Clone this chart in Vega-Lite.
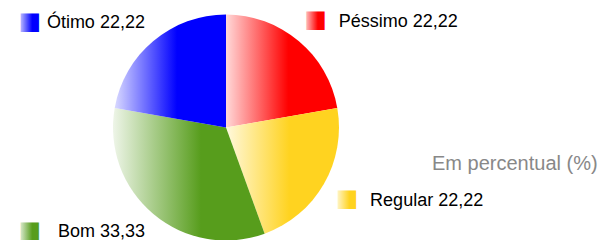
{
  "$schema": "https://vega.github.io/schema/vega-lite/v6.json",
  "autosize": "none",
  "padding": {"left": 0, "top": 15, "right": 153, "bottom": 0},
  "width": 452,
  "height": 225,
  "background": "white",
  "config": {"view": {"stroke": null}},
  "title": {
    "text": "Em percentual (%)",
    "orient": "top",
    "anchor": "start",
    "frame": "group",
    "offset": 0,
    "dx": 432,
    "dy": 182,
    "baseline": "alphabetic",
    "font": "Liberation Sans",
    "fontSize": 20,
    "fontWeight": "normal",
    "color": "#888888"
  },
  "data": {
    "values": [
      {"categoria": "Péssimo", "valor": 22.22, "ordem": 1, "rotulo": "Péssimo 22,22"},
      {"categoria": "Regular", "valor": 22.22, "ordem": 2, "rotulo": "Regular 22,22"},
      {"categoria": "Bom", "valor": 33.33, "ordem": 3, "rotulo": "Bom 33,33"},
      {"categoria": "Ótimo", "valor": 22.22, "ordem": 4, "rotulo": "Ótimo 22,22"}
    ]
  },
  "encoding": {
    "theta": {"field": "valor", "type": "quantitative", "stack": true},
    "order": {"field": "ordem", "type": "quantitative"}
  },
  "layer": [
    {
      "mark": {"type": "arc", "outerRadius": 113},
      "encoding": {
        "fill": {
          "condition": [
            {"test": "datum.categoria === 'Péssimo'", "value": {"gradient": "linear", "x1": 0, "y1": 0, "x2": 1, "y2": 0, "stops": [{"offset": 0, "color": "#FFD9D9"}, {"offset": 0.56, "color": "#FF0000"}, {"offset": 1, "color": "#FF0000"}]}},
            {"test": "datum.categoria === 'Regular'", "value": {"gradient": "linear", "x1": 0, "y1": 0, "x2": 1, "y2": 0, "stops": [{"offset": 0, "color": "#FFF9DE"}, {"offset": 0.56, "color": "#FFD320"}, {"offset": 1, "color": "#FFD320"}]}},
            {"test": "datum.categoria === 'Ótimo'", "value": {"gradient": "linear", "x1": 0, "y1": 0, "x2": 1, "y2": 0, "stops": [{"offset": 0, "color": "#D9D9FF"}, {"offset": 0.56, "color": "#0000FF"}, {"offset": 1, "color": "#0000FF"}]}}
          ],
          "value": {"gradient": "linear", "x1": 0, "y1": 0, "x2": 1, "y2": 0, "stops": [{"offset": 0, "color": "#EEF5E8"}, {"offset": 0.58, "color": "#579D1C"}, {"offset": 1, "color": "#579D1C"}]}
        }
      }
    },
    {
      "mark": {"type": "text", "radius": 141, "align": "left", "baseline": "alphabetic", "dx": 22, "dy": 8, "font": "Liberation Sans", "fontSize": 18, "fill": "#000000"},
      "encoding": {
        "text": {"condition": {"test": "datum.categoria === 'Péssimo' || datum.categoria === 'Regular'", "field": "rotulo"}, "value": ""}
      }
    },
    {
      "mark": {"type": "text", "radius": 137, "align": "right", "baseline": "alphabetic", "dx": 7, "dy": 5, "font": "Liberation Sans", "fontSize": 18, "fill": "#000000"},
      "encoding": {
        "text": {"condition": {"test": "datum.categoria === 'Bom' || datum.categoria === 'Ótimo'", "field": "rotulo"}, "value": ""}
      }
    },
    {
      "mark": {"type": "text", "radius": 141, "align": "center", "baseline": "middle", "dx": -1, "dy": 1, "font": "DejaVu Sans", "fontSize": 24},
      "encoding": {
        "text": {"condition": {"test": "datum.categoria === 'Péssimo' || datum.categoria === 'Regular'", "value": "■"}, "value": ""},
        "fill": {
          "condition": [
            {"test": "datum.categoria === 'Péssimo'", "value": {"gradient": "linear", "x1": 0, "y1": 0, "x2": 1, "y2": 0, "stops": [{"offset": 0, "color": "#FFD9D9"}, {"offset": 0.6, "color": "#FF0000"}, {"offset": 1, "color": "#FF0000"}]}}
          ],
          "value": {"gradient": "linear", "x1": 0, "y1": 0, "x2": 1, "y2": 0, "stops": [{"offset": 0, "color": "#FFF9DE"}, {"offset": 0.6, "color": "#FFD320"}, {"offset": 1, "color": "#FFD320"}]}
        }
      }
    },
    {
      "mark": {"type": "text", "radius": 137, "align": "center", "baseline": "middle", "dx": -108, "dy": -1, "font": "DejaVu Sans", "fontSize": 24},
      "encoding": {
        "text": {"condition": {"test": "datum.categoria === 'Bom' || datum.categoria === 'Ótimo'", "value": "■"}, "value": ""},
        "fill": {
          "condition": [
            {"test": "datum.categoria === 'Ótimo'", "value": {"gradient": "linear", "x1": 0, "y1": 0, "x2": 1, "y2": 0, "stops": [{"offset": 0, "color": "#D9D9FF"}, {"offset": 0.6, "color": "#0000FF"}, {"offset": 1, "color": "#0000FF"}]}}
          ],
          "value": {"gradient": "linear", "x1": 0, "y1": 0, "x2": 1, "y2": 0, "stops": [{"offset": 0, "color": "#EEF5E8"}, {"offset": 0.6, "color": "#579D1C"}, {"offset": 1, "color": "#579D1C"}]}
        }
      }
    }
  ]
}
